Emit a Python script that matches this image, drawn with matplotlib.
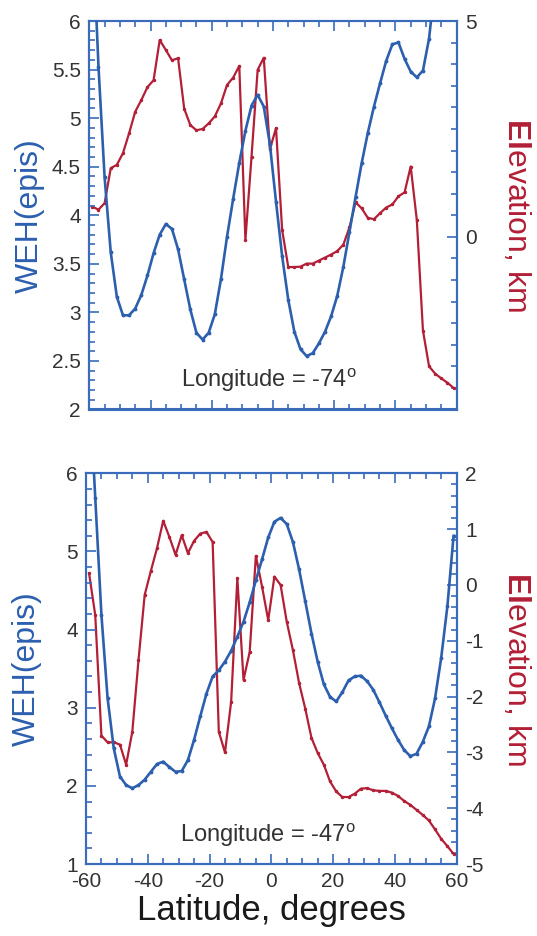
import matplotlib
matplotlib.use("Agg")
import matplotlib.pyplot as plt
from matplotlib.ticker import MultipleLocator, FuncFormatter

plt.rcParams['font.family'] = ['Liberation Sans', 'DejaVu Sans']
plt.rcParams['mathtext.fontset'] = 'custom'
plt.rcParams['mathtext.rm'] = 'Liberation Sans'
plt.rcParams['mathtext.bf'] = 'Liberation Sans:bold'
plt.rcParams['axes.unicode_minus'] = False

# --- Data (latitude sampled every 2 degrees) ---
lat = list(range(-59, 60, 2))

weh_74 = [7.0, 5.53, 4.39, 3.62, 3.16, 2.97, 2.97, 3.04, 3.18, 3.38,
          3.61, 3.80, 3.91, 3.86, 3.65, 3.34, 3.03, 2.79, 2.72, 2.79,
          2.98, 3.34, 3.78, 4.17, 4.54, 4.87, 5.13, 5.24, 5.12, 4.73,
          4.14, 3.58, 3.13, 2.80, 2.62, 2.55, 2.58, 2.68, 2.80, 2.96,
          3.17, 3.47, 3.83, 4.19, 4.54, 4.85, 5.12, 5.36, 5.59, 5.76,
          5.78, 5.61, 5.48, 5.42, 5.49, 5.82, 6.4, None, None, None]

elev_74 = [0.70, 0.63, 0.78, 1.59, 1.67, 1.94, 2.40, 2.90, 3.17, 3.47,
           3.63, 4.56, 4.33, 4.09, 4.14, 2.97, 2.59, 2.47, 2.50, 2.63,
           2.79, 3.09, 3.52, 3.69, 3.96, -0.07, 1.86, 3.87, 4.15, 2.03,
           2.52, 0.16, -0.70, -0.70, -0.69, -0.62, -0.62, -0.55, -0.48, -0.41,
           -0.33, -0.18, 0.22, 0.80, 0.66, 0.44, 0.41, 0.55, 0.68, 0.75,
           0.94, 1.03, 1.63, 0.39, -2.17, -3.00, -3.17, -3.28, -3.38, -3.50]

weh_47 = [7.2, 5.69, 4.19, 3.12, 2.48, 2.12, 2.01, 1.97, 2.01, 2.08,
          2.18, 2.28, 2.31, 2.24, 2.18, 2.19, 2.33, 2.59, 2.89, 3.18,
          3.40, 3.48, 3.59, 3.73, 3.91, 4.10, 4.35, 4.63, 4.90, 5.18,
          5.38, 5.43, 5.35, 5.12, 4.77, 4.36, 3.95, 3.59, 3.30, 3.14,
          3.08, 3.20, 3.35, 3.40, 3.41, 3.34, 3.23, 3.07, 2.90, 2.74,
          2.59, 2.46, 2.38, 2.41, 2.56, 2.76, 3.12, 3.64, 4.30, 5.20]

elev_47 = [0.21, -0.54, -2.70, -2.82, -2.82, -2.86, -3.22, -2.63, -1.35, -0.18,
           0.25, 0.66, 1.15, 0.86, 0.54, 0.89, 0.57, 0.79, 0.92, 0.95,
           0.77, -2.63, -3.00, -2.09, 0.12, -1.70, -1.20, 0.52, -0.03, -0.63,
           0.15, 0.00, -0.66, -1.17, -1.76, -2.22, -2.74, -3.01, -3.22, -3.52,
           -3.70, -3.80, -3.80, -3.74, -3.65, -3.64, -3.68, -3.69, -3.69, -3.72,
           -3.78, -3.87, -3.94, -4.03, -4.12, -4.22, -4.38, -4.55, -4.68, -4.82]

panels = [
    {"weh": weh_74, "elev": elev_74, "lon": "-74",
     "weh_lim": (2, 6), "weh_major": 0.5, "weh_minor": 0.1,
     "elev_lim": (-4, 5), "elev_major": 5, "elev_minor": 0.5},
    {"weh": weh_47, "elev": elev_47, "lon": "-47",
     "weh_lim": (1, 6), "weh_major": 1, "weh_minor": 0.2,
     "elev_lim": (-5, 2), "elev_major": 1, "elev_minor": 0.2},
]

blue = "#2c5fae"
red = "#b21f36"
spine_blue = "#3a6cbb"
label_gray = "#333333"
short_fmt = FuncFormatter(lambda v, _: f"{v:g}")

fig = plt.figure(figsize=(5.37, 9.36), dpi=100)
rects = [[0.1663, 0.5625, 0.684, 0.415], [0.1601, 0.0769, 0.6903, 0.4174]]
weh_label_x = [-0.12, -0.119]

for i, (p, rect) in enumerate(zip(panels, rects)):
    ax = fig.add_axes(rect)
    ax2 = ax.twinx()

    lx = [x for x, v in zip(lat, p["weh"]) if v is not None]
    ly = [v for v in p["weh"] if v is not None]
    ax.plot(lx, ly, color=blue, lw=1.9, marker='.', ms=3.5, zorder=3)
    ax2.plot(lat, p["elev"], color=red, lw=1.6, marker='.', ms=3, zorder=2)
    ax.set_zorder(ax2.get_zorder() + 1)
    ax.patch.set_visible(False)

    ax.set_xlim(-60, 60)
    ax.set_ylim(*p["weh_lim"])
    ax2.set_ylim(*p["elev_lim"])

    ax.xaxis.set_major_locator(MultipleLocator(20))
    ax.xaxis.set_minor_locator(MultipleLocator(5))
    ax.yaxis.set_major_locator(MultipleLocator(p["weh_major"]))
    ax.yaxis.set_minor_locator(MultipleLocator(p["weh_minor"]))
    ax.yaxis.set_major_formatter(short_fmt)
    ax2.yaxis.set_major_locator(MultipleLocator(p["elev_major"]))
    ax2.yaxis.set_minor_locator(MultipleLocator(p["elev_minor"]))
    ax2.yaxis.set_major_formatter(short_fmt)

    for a in (ax, ax2):
        for s in a.spines.values():
            s.set_color(spine_blue)
            s.set_linewidth(1.5)
    ax.tick_params(axis='both', which='both', direction='in', color=spine_blue,
                   top=True, width=1.2, labelcolor=label_gray)
    ax.tick_params(which='major', length=7)
    ax.tick_params(which='minor', length=4)
    ax.tick_params(axis='y', labelsize=15, pad=6)
    ax.tick_params(axis='x', labelsize=15, pad=6)
    ax2.tick_params(axis='y', which='both', direction='in', color=spine_blue,
                    width=1.2, labelcolor=label_gray, labelsize=15, pad=6)
    ax2.tick_params(which='major', length=7)
    ax2.tick_params(which='minor', length=4)

    if i == 0:
        ax.tick_params(axis='x', labelbottom=False)
    else:
        ax.set_xlabel("Latitude, degrees", fontsize=25, color="#1a1a1a", labelpad=2)

    ax.set_ylabel("WEH(epis)", fontsize=23, color=blue)
    ax.yaxis.set_label_coords(weh_label_x[i], 0.5)
    ax2.set_ylabel(r"$\mathbf{El}$evation, km", fontsize=23, color=red,
                   rotation=270, va='center')
    ax2.yaxis.set_label_coords(1.162, 0.5)

    ax.text(0.49, 0.075, "Longitude = " + p["lon"] + r"$^{\rm o}$", transform=ax.transAxes,
            ha='center', va='center', fontsize=17, color=label_gray)

fig.savefig("out.png", dpi=100)
